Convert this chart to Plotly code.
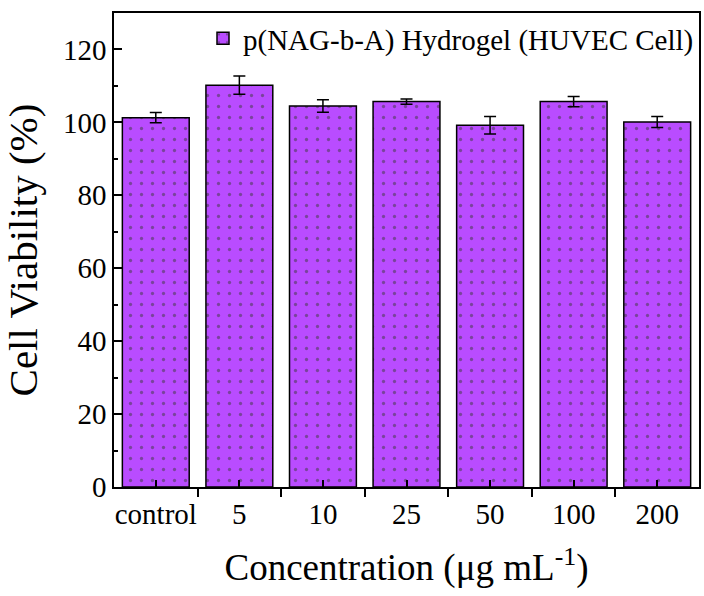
import plotly.graph_objects as go

categories = ["control", "5", "10", "25", "50", "100", "200"]
viability = [101.3, 110.2, 104.5, 105.7, 99.2, 105.7, 100.1]
errors = [1.4, 2.5, 1.7, 0.7, 2.4, 1.4, 1.5]
series_name = "p(NAG-b-A) Hydrogel (HUVEC Cell)"
y_ticks = [0, 20, 40, 60, 80, 100, 120]

FONT = "Liberation Serif"
x_pos = list(range(len(categories)))
boundaries = [i - 0.5 for i in range(len(categories) + 1)]

fig = go.Figure()
fig.add_trace(go.Bar(
    x=x_pos, y=viability, name=series_name, width=0.8,
    marker=dict(color="#B94CFF", line=dict(color="black", width=1.5),
                pattern=dict(shape=".", fgcolor="#3a3a3a", bgcolor="#B94CFF",
                             size=11, solidity=0.07)),
    error_y=dict(type="data", array=errors, color="black", thickness=1.5, width=6),
    showlegend=True,
))

fig.update_layout(
    width=704, height=596,
    margin=dict(l=114, r=3, t=13, b=109),
    plot_bgcolor="white", paper_bgcolor="white",
    font=dict(family=FONT, color="black", size=29),
    showlegend=True,
    legend=dict(x=1, xanchor="right", y=1, yanchor="top",
                bgcolor="rgba(0,0,0,0)", font=dict(size=29, family=FONT, color="black"),
                itemwidth=30),
    bargap=0.2,
)
fig.update_xaxes(
    range=[-0.5, len(categories) - 0.5],
    tickmode="array", tickvals=x_pos, ticktext=categories,
    ticks="inside", ticklen=7, tickwidth=1.5, tickcolor="black",
    minor=dict(tickmode="array", tickvals=boundaries, ticks="outside",
               ticklen=8, tickwidth=1.5, tickcolor="black"),
    showline=True, linecolor="black", linewidth=1.5, mirror=True,
    showgrid=False, zeroline=False,
    tickfont=dict(size=29, family=FONT, color="black"),
    title=dict(text="Concentration (μg mL<sup>-1</sup>)",
               font=dict(size=37, family=FONT, color="black"), standoff=26),
)
fig.update_yaxes(
    range=[0, 130],
    tickmode="array", tickvals=y_ticks,
    ticks="inside", ticklen=8, tickwidth=1.5, tickcolor="black",
    minor=dict(dtick=10, tick0=0, ticks="inside", ticklen=4, tickwidth=1.5, tickcolor="black"),
    showline=True, linecolor="black", linewidth=1.5, mirror=True,
    showgrid=False, zeroline=False,
    tickfont=dict(size=29, family=FONT, color="black"),
    title=dict(text="Cell Viability (%)", font=dict(size=41, family=FONT, color="black"), standoff=13),
)

fig.write_html("out.html")
